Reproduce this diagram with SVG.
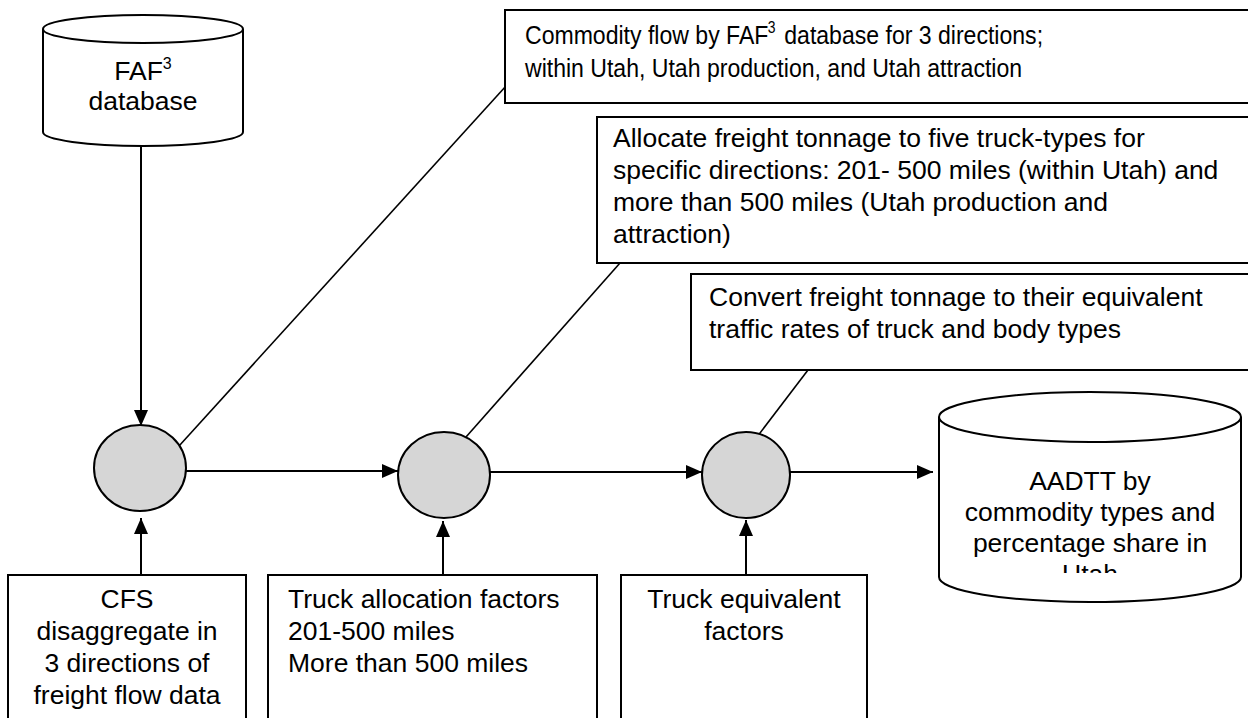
<svg xmlns="http://www.w3.org/2000/svg" width="1248" height="718" viewBox="0 0 1248 718">
  <style>
    .box { fill: #ffffff; stroke: #000000; stroke-width: 2; }
    .proc { fill: #d6d6d6; stroke: #000000; stroke-width: 2; }
    .db { fill: #ffffff; stroke: #000000; stroke-width: 2; }
    .flow { fill: none; stroke: #000000; stroke-width: 2; marker-end: url(#ah); }
    .lead { fill: none; stroke: #000000; stroke-width: 1.6; }
    text { font-family: "Liberation Sans", Arial, Helvetica, sans-serif; font-size: 26.5px; fill: #000000; }
    .c { text-anchor: middle; }
    .sup { font-size: 16px; }
  </style>
  <defs>
    <marker id="ah" markerUnits="userSpaceOnUse" markerWidth="17" markerHeight="14" refX="16" refY="7" orient="auto">
      <path d="M0,0 L16,7 L0,14 z" fill="#000000"/>
    </marker>
    <clipPath id="aadttClip">
      <rect x="939" y="440" width="302" height="133"/>
    </clipPath>
  </defs>

  <rect width="1248" height="718" fill="#ffffff"/>

  <!-- connectors -->
  <g id="connectors">
    <path class="flow" d="M141,147 L141,426"/>
    <path class="flow" d="M186,471 L398,471"/>
    <path class="flow" d="M490,472 L702,472"/>
    <path class="flow" d="M790,472 L933,472"/>
    <path class="flow" d="M141,575 L141,518"/>
    <path class="flow" d="M443,575 L443,521"/>
    <path class="flow" d="M746,575 L746,520"/>
    <path class="lead" d="M179,446 L506,86"/>
    <path class="lead" d="M466,437 L620,263"/>
    <path class="lead" d="M757,437 L808,370"/>
  </g>

  <!-- FAF3 database store -->
  <g id="faf3-db">
    <path class="db" d="M43,29 L43,132 A100,14 0 0 0 243,132 L243,29"/>
    <ellipse class="db" cx="143" cy="29" rx="100" ry="14"/>
    <text class="c" x="143" y="80">FAF<tspan class="sup" dy="-11">3</tspan></text>
    <text class="c" x="143" y="110">database</text>
  </g>

  <!-- annotation boxes along the top -->
  <g id="note-commodity-flow">
    <rect class="box" x="505" y="10" width="760" height="93"/>
    <!-- narrow lettering in this box -->
    <g transform="translate(525,0) scale(0.87,1)">
      <text x="0" y="44">Commodity flow by FAF</text>
      <text class="sup" x="279" y="33">3</text>
      <text x="298" y="44">database for 3 directions;</text>
      <text x="0" y="77">within Utah, Utah production, and Utah attraction</text>
    </g>
  </g>

  <g id="note-allocate">
    <rect class="box" x="597" y="117" width="668" height="146"/>
    <text x="613" y="147">Allocate freight tonnage to five truck-types for</text>
    <text x="613" y="179">specific directions: 201- 500 miles (within Utah) and</text>
    <text x="613" y="211">more than 500 miles (Utah production and</text>
    <text x="613" y="243">attraction)</text>
  </g>

  <g id="note-convert">
    <rect class="box" x="691" y="274" width="574" height="96"/>
    <text x="709" y="306">Convert freight tonnage to their equivalent</text>
    <text x="709" y="338">traffic rates of truck and body types</text>
  </g>

  <!-- process steps -->
  <g id="step-1">
    <ellipse class="proc" cx="140" cy="468" rx="46" ry="43"/>
  </g>
  <g id="step-2">
    <ellipse class="proc" cx="444" cy="475" rx="46" ry="43"/>
  </g>
  <g id="step-3">
    <ellipse class="proc" cx="746" cy="475" rx="44" ry="43"/>
  </g>

  <!-- output store -->
  <g id="aadtt-db">
    <path class="db" d="M939,417 L939,577 A151,25 0 0 0 1241,577 L1241,417"/>
    <ellipse class="db" cx="1090" cy="417" rx="151" ry="25"/>
    <g clip-path="url(#aadttClip)">
      <text class="c" x="1090" y="490">AADTT by</text>
      <text class="c" x="1090" y="521">commodity types and</text>
      <text class="c" x="1090" y="552">percentage share in</text>
      <text class="c" x="1090" y="583">Utah</text>
    </g>
  </g>

  <!-- input boxes along the bottom -->
  <g id="input-cfs">
    <rect class="box" x="8" y="575" width="238" height="160"/>
    <text class="c" x="127" y="608">CFS</text>
    <text class="c" x="127" y="640">disaggregate in</text>
    <text class="c" x="127" y="672">3 directions of</text>
    <text class="c" x="127" y="704">freight flow data</text>
  </g>

  <g id="input-allocation">
    <rect class="box" x="268" y="575" width="329" height="160"/>
    <text x="288" y="608">Truck allocation factors</text>
    <text x="288" y="640">201-500 miles</text>
    <text x="288" y="672">More than 500 miles</text>
  </g>

  <g id="input-equivalent">
    <rect class="box" x="621" y="575" width="246" height="160"/>
    <text class="c" x="744" y="608">Truck equivalent</text>
    <text class="c" x="744" y="640">factors</text>
  </g>
</svg>
